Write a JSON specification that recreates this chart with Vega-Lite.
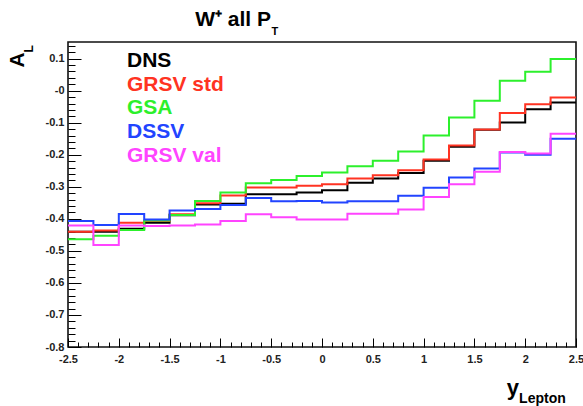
{
  "$schema": "https://vega.github.io/schema/vega-lite/v6.json",
  "width": 508,
  "height": 305,
  "autosize": {"type": "none"},
  "padding": {"left": 68, "top": 42, "right": 7, "bottom": 59},
  "background": "white",
  "config": {"view": {"stroke": "#111111", "strokeWidth": 1.6}, "font": "Liberation Sans"},
  "layer": [
    {
      "data": {"values": [
        {"series": "DNS", "i": 1, "x0": -2.5, "x1": -2.25, "v": -0.44},
        {"series": "DNS", "i": 2, "x0": -2.25, "x1": -2.0, "v": -0.44},
        {"series": "DNS", "i": 3, "x0": -2.0, "x1": -1.75, "v": -0.431},
        {"series": "DNS", "i": 4, "x0": -1.75, "x1": -1.5, "v": -0.412},
        {"series": "DNS", "i": 5, "x0": -1.5, "x1": -1.25, "v": -0.389},
        {"series": "DNS", "i": 6, "x0": -1.25, "x1": -1.0, "v": -0.355},
        {"series": "DNS", "i": 7, "x0": -1.0, "x1": -0.75, "v": -0.353},
        {"series": "DNS", "i": 8, "x0": -0.75, "x1": -0.5, "v": -0.323},
        {"series": "DNS", "i": 9, "x0": -0.5, "x1": -0.25, "v": -0.323},
        {"series": "DNS", "i": 10, "x0": -0.25, "x1": 0.0, "v": -0.318},
        {"series": "DNS", "i": 11, "x0": 0.0, "x1": 0.25, "v": -0.311},
        {"series": "DNS", "i": 12, "x0": 0.25, "x1": 0.5, "v": -0.287},
        {"series": "DNS", "i": 13, "x0": 0.5, "x1": 0.75, "v": -0.274},
        {"series": "DNS", "i": 14, "x0": 0.75, "x1": 1.0, "v": -0.257},
        {"series": "DNS", "i": 15, "x0": 1.0, "x1": 1.25, "v": -0.219},
        {"series": "DNS", "i": 16, "x0": 1.25, "x1": 1.5, "v": -0.175},
        {"series": "DNS", "i": 17, "x0": 1.5, "x1": 1.75, "v": -0.122},
        {"series": "DNS", "i": 18, "x0": 1.75, "x1": 2.0, "v": -0.099},
        {"series": "DNS", "i": 19, "x0": 2.0, "x1": 2.25, "v": -0.058},
        {"series": "DNS", "i": 20, "x0": 2.25, "x1": 2.5, "v": -0.037},

        {"series": "GRSV std", "i": 1, "x0": -2.5, "x1": -2.25, "v": -0.44},
        {"series": "GRSV std", "i": 2, "x0": -2.25, "x1": -2.0, "v": -0.436},
        {"series": "GRSV std", "i": 3, "x0": -2.0, "x1": -1.75, "v": -0.412},
        {"series": "GRSV std", "i": 4, "x0": -1.75, "x1": -1.5, "v": -0.407},
        {"series": "GRSV std", "i": 5, "x0": -1.5, "x1": -1.25, "v": -0.386},
        {"series": "GRSV std", "i": 6, "x0": -1.25, "x1": -1.0, "v": -0.351},
        {"series": "GRSV std", "i": 7, "x0": -1.0, "x1": -0.75, "v": -0.327},
        {"series": "GRSV std", "i": 8, "x0": -0.75, "x1": -0.5, "v": -0.302},
        {"series": "GRSV std", "i": 9, "x0": -0.5, "x1": -0.25, "v": -0.302},
        {"series": "GRSV std", "i": 10, "x0": -0.25, "x1": 0.0, "v": -0.297},
        {"series": "GRSV std", "i": 11, "x0": 0.0, "x1": 0.25, "v": -0.292},
        {"series": "GRSV std", "i": 12, "x0": 0.25, "x1": 0.5, "v": -0.274},
        {"series": "GRSV std", "i": 13, "x0": 0.5, "x1": 0.75, "v": -0.264},
        {"series": "GRSV std", "i": 14, "x0": 0.75, "x1": 1.0, "v": -0.248},
        {"series": "GRSV std", "i": 15, "x0": 1.0, "x1": 1.25, "v": -0.215},
        {"series": "GRSV std", "i": 16, "x0": 1.25, "x1": 1.5, "v": -0.171},
        {"series": "GRSV std", "i": 17, "x0": 1.5, "x1": 1.75, "v": -0.121},
        {"series": "GRSV std", "i": 18, "x0": 1.75, "x1": 2.0, "v": -0.07},
        {"series": "GRSV std", "i": 19, "x0": 2.0, "x1": 2.25, "v": -0.042},
        {"series": "GRSV std", "i": 20, "x0": 2.25, "x1": 2.5, "v": -0.021},

        {"series": "GSA", "i": 1, "x0": -2.5, "x1": -2.25, "v": -0.464},
        {"series": "GSA", "i": 2, "x0": -2.25, "x1": -2.0, "v": -0.453},
        {"series": "GSA", "i": 3, "x0": -2.0, "x1": -1.75, "v": -0.435},
        {"series": "GSA", "i": 4, "x0": -1.75, "x1": -1.5, "v": -0.405},
        {"series": "GSA", "i": 5, "x0": -1.5, "x1": -1.25, "v": -0.388},
        {"series": "GSA", "i": 6, "x0": -1.25, "x1": -1.0, "v": -0.344},
        {"series": "GSA", "i": 7, "x0": -1.0, "x1": -0.75, "v": -0.318},
        {"series": "GSA", "i": 8, "x0": -0.75, "x1": -0.5, "v": -0.289},
        {"series": "GSA", "i": 9, "x0": -0.5, "x1": -0.25, "v": -0.279},
        {"series": "GSA", "i": 10, "x0": -0.25, "x1": 0.0, "v": -0.266},
        {"series": "GSA", "i": 11, "x0": 0.0, "x1": 0.25, "v": -0.255},
        {"series": "GSA", "i": 12, "x0": 0.25, "x1": 0.5, "v": -0.236},
        {"series": "GSA", "i": 13, "x0": 0.5, "x1": 0.75, "v": -0.219},
        {"series": "GSA", "i": 14, "x0": 0.75, "x1": 1.0, "v": -0.19},
        {"series": "GSA", "i": 15, "x0": 1.0, "x1": 1.25, "v": -0.14},
        {"series": "GSA", "i": 16, "x0": 1.25, "x1": 1.5, "v": -0.084},
        {"series": "GSA", "i": 17, "x0": 1.5, "x1": 1.75, "v": -0.031},
        {"series": "GSA", "i": 18, "x0": 1.75, "x1": 2.0, "v": 0.031},
        {"series": "GSA", "i": 19, "x0": 2.0, "x1": 2.25, "v": 0.059},
        {"series": "GSA", "i": 20, "x0": 2.25, "x1": 2.5, "v": 0.099},

        {"series": "DSSV", "i": 1, "x0": -2.5, "x1": -2.25, "v": -0.407},
        {"series": "DSSV", "i": 2, "x0": -2.25, "x1": -2.0, "v": -0.419},
        {"series": "DSSV", "i": 3, "x0": -2.0, "x1": -1.75, "v": -0.385},
        {"series": "DSSV", "i": 4, "x0": -1.75, "x1": -1.5, "v": -0.402},
        {"series": "DSSV", "i": 5, "x0": -1.5, "x1": -1.25, "v": -0.374},
        {"series": "DSSV", "i": 6, "x0": -1.25, "x1": -1.0, "v": -0.369},
        {"series": "DSSV", "i": 7, "x0": -1.0, "x1": -0.75, "v": -0.357},
        {"series": "DSSV", "i": 8, "x0": -0.75, "x1": -0.5, "v": -0.335},
        {"series": "DSSV", "i": 9, "x0": -0.5, "x1": -0.25, "v": -0.345},
        {"series": "DSSV", "i": 10, "x0": -0.25, "x1": 0.0, "v": -0.344},
        {"series": "DSSV", "i": 11, "x0": 0.0, "x1": 0.25, "v": -0.349},
        {"series": "DSSV", "i": 12, "x0": 0.25, "x1": 0.5, "v": -0.345},
        {"series": "DSSV", "i": 13, "x0": 0.5, "x1": 0.75, "v": -0.345},
        {"series": "DSSV", "i": 14, "x0": 0.75, "x1": 1.0, "v": -0.328},
        {"series": "DSSV", "i": 15, "x0": 1.0, "x1": 1.25, "v": -0.303},
        {"series": "DSSV", "i": 16, "x0": 1.25, "x1": 1.5, "v": -0.271},
        {"series": "DSSV", "i": 17, "x0": 1.5, "x1": 1.75, "v": -0.243},
        {"series": "DSSV", "i": 18, "x0": 1.75, "x1": 2.0, "v": -0.193},
        {"series": "DSSV", "i": 19, "x0": 2.0, "x1": 2.25, "v": -0.2},
        {"series": "DSSV", "i": 20, "x0": 2.25, "x1": 2.5, "v": -0.15},

        {"series": "GRSV val", "i": 1, "x0": -2.5, "x1": -2.25, "v": -0.421},
        {"series": "GRSV val", "i": 2, "x0": -2.25, "x1": -2.0, "v": -0.482},
        {"series": "GRSV val", "i": 3, "x0": -2.0, "x1": -1.75, "v": -0.421},
        {"series": "GRSV val", "i": 4, "x0": -1.75, "x1": -1.5, "v": -0.422},
        {"series": "GRSV val", "i": 5, "x0": -1.5, "x1": -1.25, "v": -0.421},
        {"series": "GRSV val", "i": 6, "x0": -1.25, "x1": -1.0, "v": -0.418},
        {"series": "GRSV val", "i": 7, "x0": -1.0, "x1": -0.75, "v": -0.407},
        {"series": "GRSV val", "i": 8, "x0": -0.75, "x1": -0.5, "v": -0.386},
        {"series": "GRSV val", "i": 9, "x0": -0.5, "x1": -0.25, "v": -0.395},
        {"series": "GRSV val", "i": 10, "x0": -0.25, "x1": 0.0, "v": -0.402},
        {"series": "GRSV val", "i": 11, "x0": 0.0, "x1": 0.25, "v": -0.402},
        {"series": "GRSV val", "i": 12, "x0": 0.25, "x1": 0.5, "v": -0.384},
        {"series": "GRSV val", "i": 13, "x0": 0.5, "x1": 0.75, "v": -0.384},
        {"series": "GRSV val", "i": 14, "x0": 0.75, "x1": 1.0, "v": -0.371},
        {"series": "GRSV val", "i": 15, "x0": 1.0, "x1": 1.25, "v": -0.332},
        {"series": "GRSV val", "i": 16, "x0": 1.25, "x1": 1.5, "v": -0.292},
        {"series": "GRSV val", "i": 17, "x0": 1.5, "x1": 1.75, "v": -0.253},
        {"series": "GRSV val", "i": 18, "x0": 1.75, "x1": 2.0, "v": -0.191},
        {"series": "GRSV val", "i": 19, "x0": 2.0, "x1": 2.25, "v": -0.196},
        {"series": "GRSV val", "i": 20, "x0": 2.25, "x1": 2.5, "v": -0.134}
      ]},
      "transform": [{"fold": ["x0", "x1"], "as": ["edge", "xv"]}],
      "mark": {"type": "line", "strokeWidth": 2, "clip": true},
      "encoding": {
        "x": {
          "field": "xv", "type": "quantitative",
          "scale": {"domain": [-2.5, 2.5], "nice": false, "zero": false},
          "axis": {
            "title": null, "domain": false, "grid": false, "tickCount": 500,
            "values": [-2.5,-2.4,-2.3,-2.2,-2.1,-2.0,-1.9,-1.8,-1.7,-1.6,-1.5,-1.4,-1.3,-1.2,-1.1,-1.0,-0.9,-0.8,-0.7,-0.6,-0.5,-0.4,-0.3,-0.2,-0.1,0,0.1,0.2,0.3,0.4,0.5,0.6,0.7,0.8,0.9,1.0,1.1,1.2,1.3,1.4,1.5,1.6,1.7,1.8,1.9,2.0,2.1,2.2,2.3,2.4,2.5],
            "labelExpr": "abs(round(datum.value*2)-datum.value*2) < 1e-6 ? '' + round(datum.value*2)/2 : ''",
            "tickColor": "#000000", "tickWidth": 1,
            "tickSize": {"condition": {"test": "abs(round(datum.value*2)-datum.value*2) < 1e-6", "value": -9}, "value": -5},
            "labelPadding": 15,
            "labelFont": "Liberation Sans", "labelFontWeight": "bold", "labelFontSize": 11, "labelColor": "#222222",
            "labelFlush": false, "labelOverlap": false, "labelBound": false
          }
        },
        "y": {
          "field": "v", "type": "quantitative",
          "scale": {"domain": [-0.8, 0.152], "nice": false, "zero": false},
          "axis": {
            "title": null, "domain": false, "grid": false, "tickCount": 500,
            "values": [-0.8,-0.78,-0.76,-0.74,-0.72,-0.7,-0.68,-0.66,-0.64,-0.62,-0.6,-0.58,-0.56,-0.54,-0.52,-0.5,-0.48,-0.46,-0.44,-0.42,-0.4,-0.38,-0.36,-0.34,-0.32,-0.3,-0.28,-0.26,-0.24,-0.22,-0.2,-0.18,-0.16,-0.14,-0.12,-0.1,-0.08,-0.06,-0.04,-0.02,0,0.02,0.04,0.06,0.08,0.1,0.12,0.14],
            "labelExpr": "abs(round(datum.value*10)-datum.value*10) < 1e-6 ? (datum.value == 0 ? '-0' : '' + round(datum.value*10)/10) : ''",
            "tickColor": "#000000", "tickWidth": 1,
            "tickSize": {"condition": {"test": "abs(round(datum.value*10)-datum.value*10) < 1e-6", "value": -13}, "value": -7},
            "labelPadding": 17,
            "labelFont": "Liberation Sans", "labelFontWeight": "bold", "labelFontSize": 11, "labelColor": "#222222",
            "labelFlush": false, "labelOverlap": false, "labelBound": false
          }
        },
        "color": {
          "field": "series", "type": "nominal",
          "scale": {"domain": ["DNS", "GRSV std", "GSA", "DSSV", "GRSV val"], "range": ["#000000", "#ff3322", "#2cf02c", "#2244ff", "#ff44ff"]},
          "legend": {
            "title": null, "orient": "none", "legendX": 38, "legendY": 8.5,
            "symbolSize": 0, "symbolStrokeWidth": 0, "symbolOpacity": 0,
            "labelFont": "Liberation Sans", "labelFontSize": 21, "labelFontWeight": "bold",
            "labelOffset": 0, "rowPadding": 1.7, "padding": 0, "labelLimit": 300,
            "encode": {"labels": {"update": {"fill": {"scale": "color", "field": "value"}}}}
          }
        },
        "order": [{"field": "i", "type": "quantitative"}, {"field": "edge", "type": "ordinal"}]
      }
    },
    {
      "data": {"values": [{}]},
      "mark": {"type": "text", "text": "W⁺ all P", "align": "right", "baseline": "alphabetic", "font": "Liberation Sans", "fontWeight": "bold", "fontSize": 21, "color": "#000000"},
      "encoding": {"x": {"datum": -0.502}, "y": {"datum": 0.2006}}
    },
    {
      "data": {"values": [{}]},
      "mark": {"type": "text", "text": "T", "align": "left", "baseline": "alphabetic", "font": "Liberation Sans", "fontWeight": "bold", "fontSize": 11, "color": "#000000"},
      "encoding": {"x": {"datum": -0.497}, "y": {"datum": 0.1745}}
    },
    {
      "data": {"values": [{}]},
      "mark": {"type": "text", "text": "A", "angle": 270, "align": "right", "baseline": "alphabetic", "font": "Liberation Sans", "fontWeight": "bold", "fontSize": 21, "color": "#000000"},
      "encoding": {"x": {"datum": -2.933}, "y": {"datum": 0.1195}}
    },
    {
      "data": {"values": [{}]},
      "mark": {"type": "text", "text": "L", "angle": 270, "align": "left", "baseline": "alphabetic", "font": "Liberation Sans", "fontWeight": "bold", "fontSize": 12, "color": "#000000"},
      "encoding": {"x": {"datum": -2.8445}, "y": {"datum": 0.1195}}
    },
    {
      "data": {"values": [{}]},
      "mark": {"type": "text", "text": "y", "align": "right", "baseline": "alphabetic", "font": "Liberation Sans", "fontWeight": "bold", "fontSize": 22, "color": "#000000"},
      "encoding": {"x": {"datum": 1.94}, "y": {"datum": -0.95}}
    },
    {
      "data": {"values": [{}]},
      "mark": {"type": "text", "text": "Lepton", "align": "left", "baseline": "alphabetic", "font": "Liberation Sans", "fontWeight": "bold", "fontSize": 14, "color": "#000000"},
      "encoding": {"x": {"datum": 1.94}, "y": {"datum": -0.974}}
    }
  ]
}
